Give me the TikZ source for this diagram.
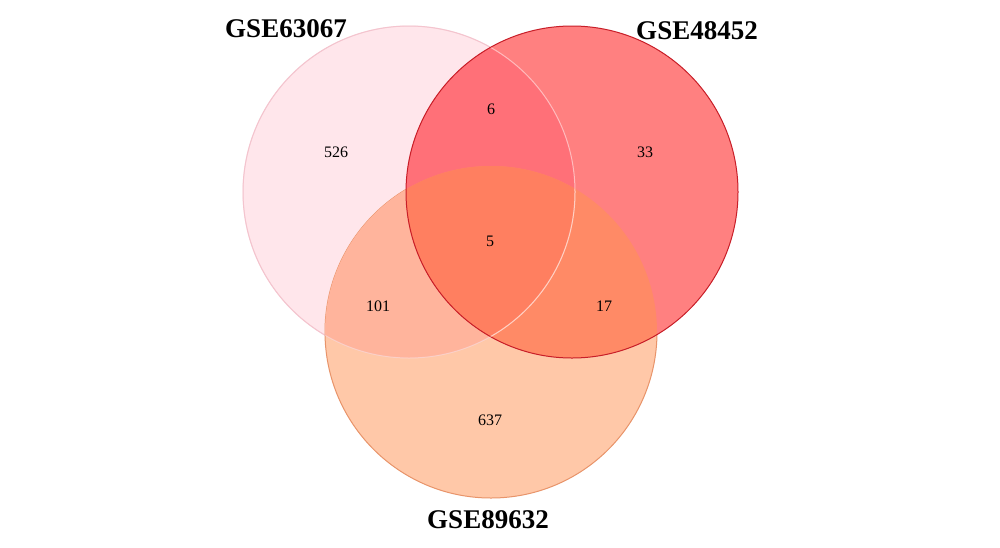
\documentclass[tikz,border=0pt]{standalone}
\usepackage{fontspec}
\setmainfont{Liberation Serif}
\definecolor{cpink}{HTML}{FFE6EB}
\definecolor{cred}{HTML}{FF8080}
\definecolor{corange}{HTML}{FFC8A8}
\definecolor{cpr}{HTML}{FF7078}
\definecolor{cpo}{HTML}{FFB49C}
\definecolor{cro}{HTML}{FF8A66}
\definecolor{cpro}{HTML}{FF7F60}
\definecolor{epink}{HTML}{F4C4CE}
\definecolor{ered}{HTML}{C81E28}
\definecolor{eorange}{HTML}{E8946A}
\tikzset{
  setlabel/.style={font=\fontsize{27}{27}\selectfont\bfseries, inner sep=0pt},
  count/.style={font=\fontsize{16}{16}\selectfont, inner sep=0pt},
}
\begin{document}
\begin{tikzpicture}[x=1pt,y=-1pt]
\useasboundingbox (0,0) rectangle (1000,547);
\fill[white] (0,0) rectangle (1000,547);
\coordinate (P) at (409,192);
\coordinate (R) at (572,192);
\coordinate (O) at (491,332);
\def\rad{166}
% pink
\fill[cpink] (P) circle (\rad);
\draw[epink, line width=1pt] (P) circle (\rad);
% orange
\fill[corange] (O) circle (\rad);
\draw[eorange, line width=1pt] (O) circle (\rad);
\begin{scope}
  \clip (P) circle (\rad);
  \fill[cpo] (O) circle (\rad);
\end{scope}
\draw[epink, line width=0.8pt, opacity=0.5] (P) circle (\rad);
% red
\fill[cred] (R) circle (\rad);
\begin{scope}
  \clip (R) circle (\rad);
  \fill[cpr] (P) circle (\rad);
  \fill[cro] (O) circle (\rad);
  \clip (P) circle (\rad);
  \fill[cpro] (O) circle (\rad);
\end{scope}
\draw[ered, line width=1pt] (R) circle (\rad);
% light pink edge through red and orange
\begin{scope}
  \clip (R) circle (\rad-0.6);
  \draw[white, line width=1pt, opacity=0.5] (P) circle (\rad);
\end{scope}
\begin{scope}
  \clip (O) circle (\rad-0.6);
  \draw[white, line width=1pt, opacity=0.25] (P) circle (\rad);
\end{scope}
% labels
\node[setlabel] (lp) at (286,29) {GSE63067};
\node[setlabel] (lr) at (697,31) {GSE48452};
\node[setlabel] (lo) at (488,520) {GSE89632};
% counts
\node[count] (n526) at (336,152) {526};
\node[count] (n6) at (491,109) {6};
\node[count] (n33) at (645,152) {33};
\node[count] (n5) at (490,241) {5};
\node[count] (n101) at (378,306) {101};
\node[count] (n17) at (604,306) {17};
\node[count] (n637) at (490,420) {637};
\end{tikzpicture}
\end{document}
